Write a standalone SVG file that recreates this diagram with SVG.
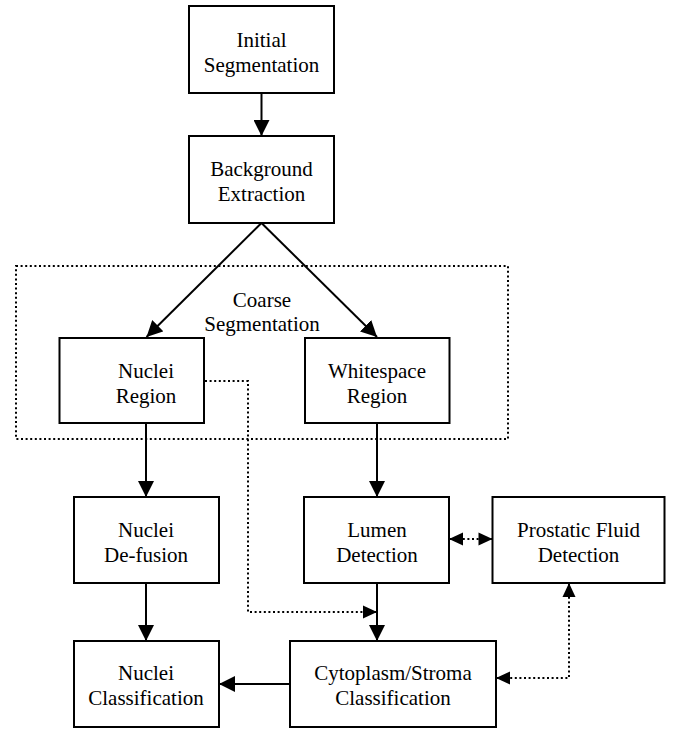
<svg xmlns="http://www.w3.org/2000/svg" width="674" height="730" viewBox="0 0 674 730">
<style>
.box{fill:#fff;stroke:#000;stroke-width:2}
.t{font-family:"Liberation Serif","Times New Roman",serif;font-size:21px;fill:#000;text-anchor:middle}
.solid{fill:none;stroke:#000;stroke-width:2}
.dot{fill:none;stroke:#000;stroke-width:2;stroke-dasharray:2 2.6}
</style>
<defs>
<marker id="ah" markerUnits="userSpaceOnUse" markerWidth="16" markerHeight="16" viewBox="0 0 15 15" refX="15" refY="7.5" orient="auto-start-reverse">
<path d="M0,0 L15,7.5 L0,15 z" fill="#000" stroke="none"/>
</marker>
<marker id="ahs" markerUnits="userSpaceOnUse" markerWidth="15" markerHeight="14" viewBox="0 0 14 14" refX="14" refY="7" orient="auto-start-reverse">
<path d="M0,0.5 L14,7 L0,13.5 z" fill="#000" stroke="none"/>
</marker>
</defs>
<rect id="coarse-group" x="16" y="266" width="492" height="173" class="dot"/>
<g id="coarse-label"><text class="t" x="262" y="307">Coarse</text><text class="t" x="262" y="331">Segmentation</text></g>
<g id="connectors">
<path class="solid" d="M261.5,93 V136" marker-end="url(#ah)"/>
<path class="solid" d="M261.5,223 L146.5,337" marker-end="url(#ah)"/>
<path class="solid" d="M261.5,223 L377,337" marker-end="url(#ah)"/>
<path class="solid" d="M146,423 V497" marker-end="url(#ah)"/>
<path class="solid" d="M377,423 V497" marker-end="url(#ah)"/>
<path class="solid" d="M146,583 V641" marker-end="url(#ah)"/>
<path class="solid" d="M377,583 V641" marker-end="url(#ah)"/>
<path class="solid" d="M290,684 H219" marker-end="url(#ah)"/>
<path class="dot" d="M205,381 H248 V612 H377" marker-end="url(#ahs)"/>
<path class="dot" d="M449,539 H492.5" marker-start="url(#ahs)" marker-end="url(#ahs)"/>
<path class="dot" d="M569,583 V678 H496" marker-start="url(#ahs)" marker-end="url(#ahs)"/>
</g>
<g id="initial-segmentation"><rect class="box" x="189" y="6" width="145" height="87"/><text class="t" x="261.5" y="47">Initial</text><text class="t" x="261.5" y="72">Segmentation</text></g>
<g id="background-extraction"><rect class="box" x="189" y="136" width="145" height="87"/><text class="t" x="261.5" y="176">Background</text><text class="t" x="261.5" y="201">Extraction</text></g>
<g id="nuclei-region"><rect class="box" x="59.5" y="338" width="144.5" height="85"/><text class="t" x="146" y="378">Nuclei</text><text class="t" x="146" y="403">Region</text></g>
<g id="whitespace-region"><rect class="box" x="305" y="338" width="144.5" height="85"/><text class="t" x="377" y="378">Whitespace</text><text class="t" x="377" y="403">Region</text></g>
<g id="nuclei-defusion"><rect class="box" x="74" y="497" width="145" height="86"/><text class="t" x="146" y="537">Nuclei</text><text class="t" x="146" y="562">De-fusion</text></g>
<g id="lumen-detection"><rect class="box" x="304" y="497" width="145" height="86"/><text class="t" x="377" y="537">Lumen</text><text class="t" x="377" y="562">Detection</text></g>
<g id="prostatic-fluid-detection"><rect class="box" x="492.5" y="497" width="172" height="86"/><text class="t" x="578.5" y="537">Prostatic Fluid</text><text class="t" x="578.5" y="562">Detection</text></g>
<g id="nuclei-classification"><rect class="box" x="74" y="641" width="145" height="86"/><text class="t" x="146" y="680">Nuclei</text><text class="t" x="146" y="705">Classification</text></g>
<g id="cytoplasm-stroma-classification"><rect class="box" x="290" y="641" width="206" height="86"/><text class="t" x="393" y="680">Cytoplasm/Stroma</text><text class="t" x="393" y="705">Classification</text></g>
</svg>
